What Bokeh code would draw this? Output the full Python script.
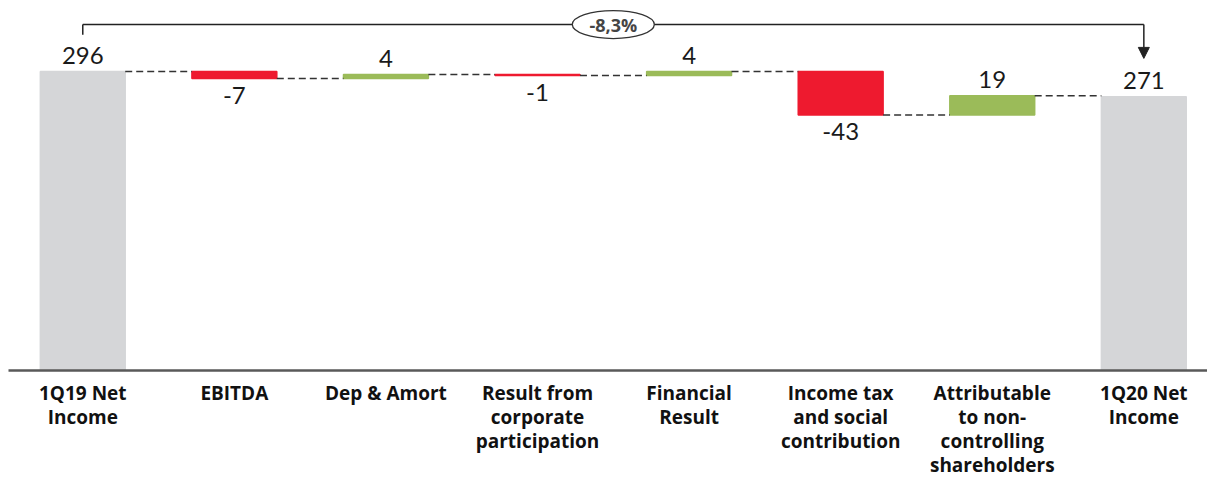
from bokeh.plotting import figure
from bokeh.models import Range1d, Arrow, NormalHead, ColumnDataSource, FixedTicker
from bokeh.core.properties import value
from bokeh.embed import file_html
from bokeh.resources import INLINE

# ---- data ----
categories = [
    "1Q19 Net\nIncome",
    "EBITDA",
    "Dep & Amort",
    "Result from\ncorporate\nparticipation",
    "Financial\nResult",
    "Income tax\nand social\ncontribution",
    "Attributable\nto non-\ncontrolling\nshareholders",
    "1Q20 Net\nIncome",
]
values = [296, -7, 4, -1, 4, -43, 19, 271]
value_labels = ["296", "-7", "4", "-1", "4", "-43", "19", "271"]
is_total = [True, False, False, False, False, False, False, True]
change_label = "-8,3%"

# ---- styles ----
RED = "#EE1A2F"
GREEN = "#9BBB59"
GRAY = "#D5D6D8"
BAR_W = 0.56

xs = list(range(len(categories)))
bottoms, tops, colors, ends = [], [], [], []
running = 0
for v, t in zip(values, is_total):
    if t:
        b, tp = 0, v
        running = v
        colors.append(GRAY)
    else:
        start = running
        running = running + v
        b, tp = min(start, running), max(start, running)
        colors.append(GREEN if v > 0 else RED)
    bottoms.append(b)
    tops.append(tp)
    ends.append(running)

p = figure(
    frame_width=1199, frame_height=362,
    x_range=Range1d(-0.49, 7.42), y_range=Range1d(0, 358.4),
    output_backend="svg", toolbar_location=None,
    min_border=0, min_border_bottom=0, min_border_top=8,
    min_border_left=8, min_border_right=0,
)
p.outline_line_color = None
p.xgrid.visible = False
p.ygrid.visible = False
p.yaxis.visible = False
p.background_fill_color = "white"

src = ColumnDataSource(dict(x=xs, bottom=bottoms, top=tops, color=colors))
p.vbar(x="x", bottom="bottom", top="top", width=BAR_W, fill_color="color",
       line_color="color", line_width=1.5, source=src)

# connectors
cx0 = [x + BAR_W / 2 for x in xs[:-1]]
cx1 = [x + 1 - BAR_W / 2 for x in xs[:-1]]
cy = ends[:-1]
p.segment(x0=cx0, y0=cy, x1=cx1, y1=cy, line_color="#333333",
          line_width=1.5, line_dash="7 4")

# value labels
up_x, up_y, up_t, dn_x, dn_y, dn_t = [], [], [], [], [], []
for x, v, t, b, tp, lab in zip(xs, values, is_total, bottoms, tops, value_labels):
    if t or v > 0:
        up_x.append(x); up_y.append(tp); up_t.append(lab)
    else:
        dn_x.append(x); dn_y.append(b); dn_t.append(lab)
p.text(x=up_x, y=up_y, text=up_t, text_align="center", text_baseline="bottom",
       y_offset=-8, text_font=value("Lato"), text_font_size="24px",
       text_color="#1a1a1a")
p.text(x=dn_x, y=dn_y, text=dn_t, text_align="center", text_baseline="top",
       y_offset=8, text_font=value("Lato"), text_font_size="24px",
       text_color="#1a1a1a")

# bracket with change
y_br = max(values[0], values[-1]) + 46.5
x_first, x_last = xs[0], xs[-1]
p.segment(x0=[x_first, x_first], y0=[y_br - 10, y_br], x1=[x_first, x_last],
          y1=[y_br, y_br], line_color="#222222", line_width=1.5)
p.add_layout(Arrow(end=NormalHead(size=11, fill_color="#222222", line_color="#222222"),
                   x_start=x_last, y_start=y_br, x_end=x_last, y_end=max(values[-1], 0) + 38,
                   line_color="#222222", line_width=1.5))
xm = (x_first + x_last) / 2
p.ellipse(x=[xm], y=[y_br], width=82, height=28, width_units="screen",
          height_units="screen", fill_color="white", line_color="#333333",
          line_width=1.3)
p.text(x=[xm], y=[y_br], text=[change_label], text_align="center",
       text_baseline="middle", text_font=value("Open Sans"), text_font_style="bold",
       text_font_size="18px", text_color="#454545")

# x axis
p.xaxis.ticker = FixedTicker(ticks=xs)
p.xaxis.major_label_overrides = {x: c for x, c in zip(xs, categories)}
p.xaxis.major_tick_line_color = None
p.xaxis.minor_tick_line_color = None
p.xaxis.axis_line_color = "#595959"
p.xaxis.axis_line_width = 2.5
p.xaxis.major_label_standoff = 3
p.xaxis.major_label_text_font = "Open Sans"
p.xaxis.major_label_text_font_style = "bold"
p.xaxis.major_label_text_font_size = "19px"
p.xaxis.major_label_text_line_height = 0.93
p.xaxis.major_label_text_color = "#111111"

open("out.html", "w").write(file_html(p, INLINE))
